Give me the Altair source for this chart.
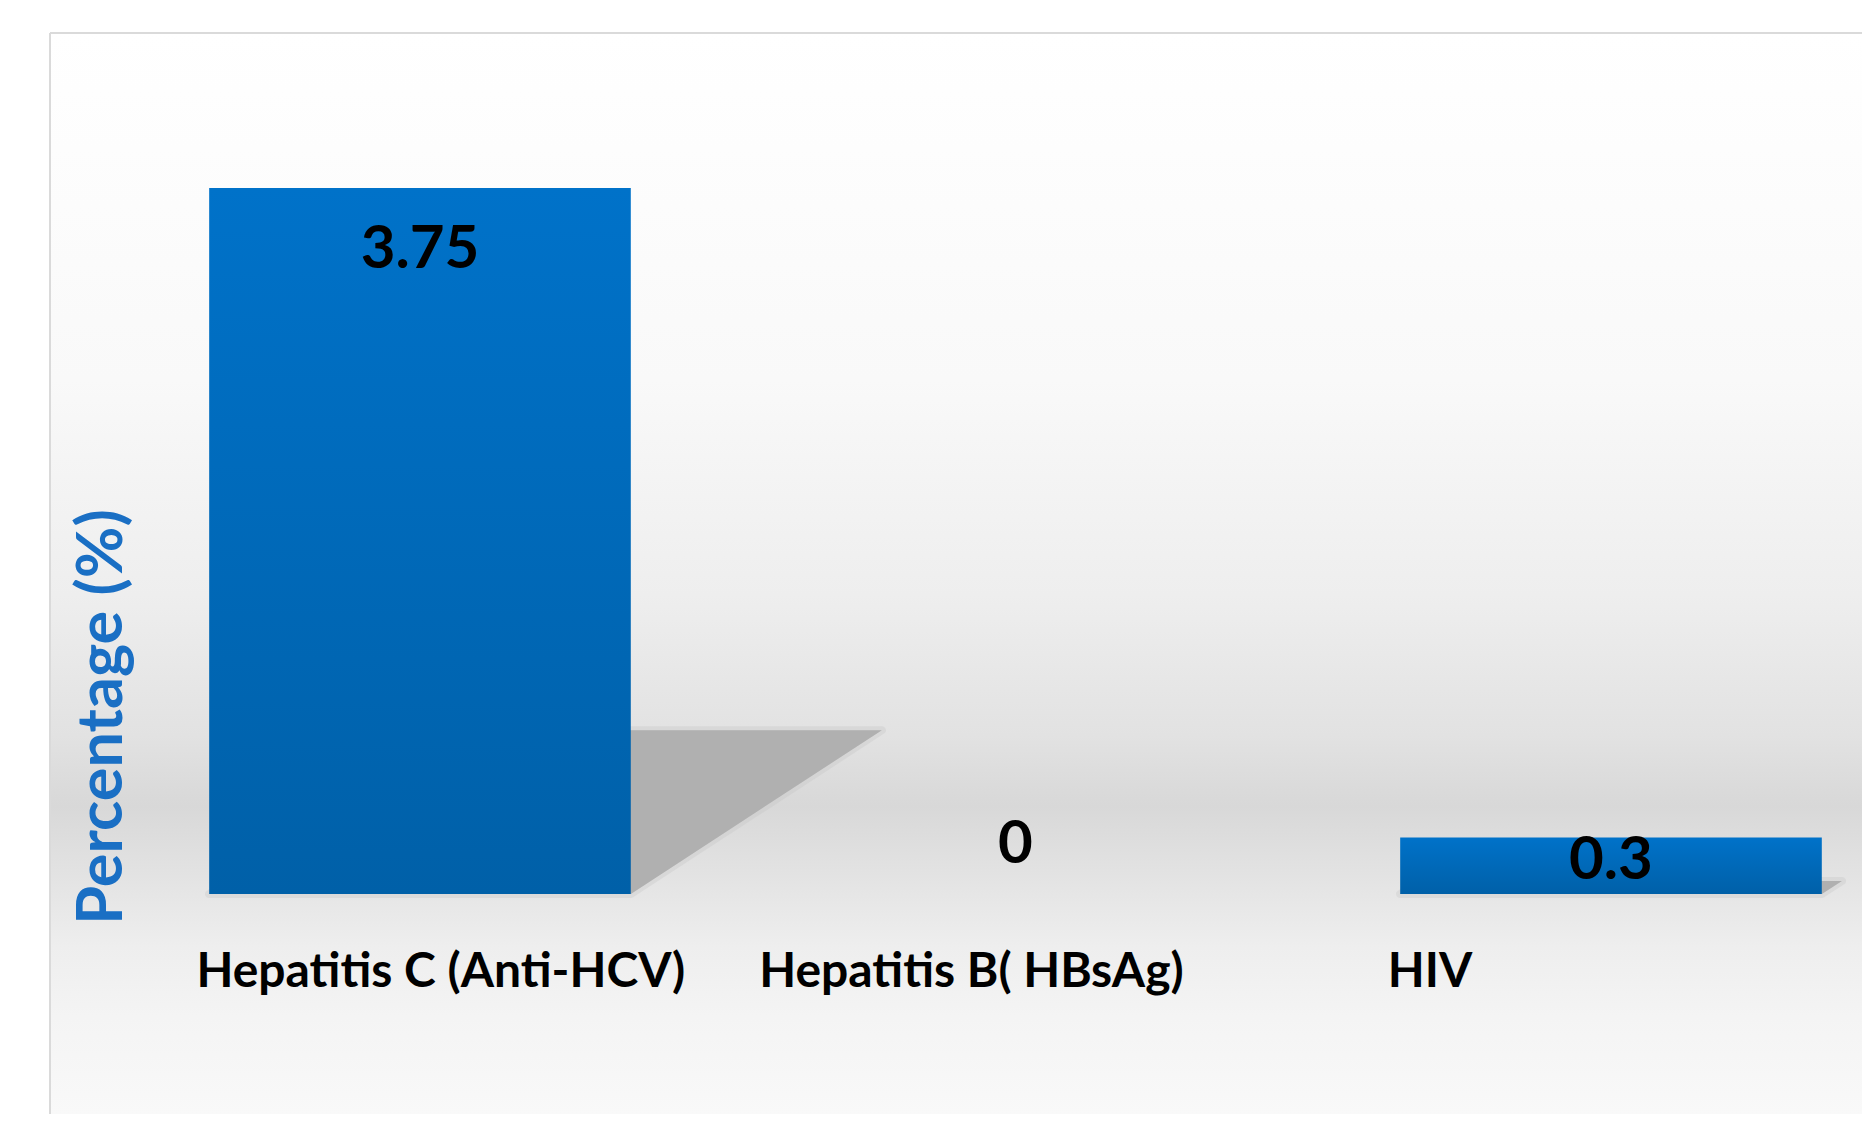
import altair as alt
import pandas as pd

# ---- data ----
CATEGORIES = ["Hepatitis C (Anti-HCV)", "Hepatitis B( HBsAg)", "HIV"]
VALUES = [3.75, 0, 0.3]
VALUE_TEXT = ["3.75", "0", "0.3"]
Y_TITLE = "Percentage (%)"

# ---- layout / style (not data) ----
W, H = 1812, 1081
X_DOMAIN = [-0.6213, 2.4215]          # category index units
Y_DOMAIN = [-1.1685, 4.573]           # percentage units
PX_PER_UNIT = H / (Y_DOMAIN[1] - Y_DOMAIN[0])
BAR_HALF = 0.354                      # half bar width in index units
CAT_LABEL_SHIFT = [0.035, -0.074, -0.304]
CAT_LABEL_Y = -0.494
VALUE_LABEL_DY = [80, -31, 41]        # px below the bar end
SHADOW_H = 0.232                      # shadow height / bar height
SHADOW_SHEAR = 0.1124                 # index units of shift per value unit
FONT = "Lato"

bars = pd.DataFrame({
    "cat": CATEGORIES,
    "value": VALUES,
    "txt": VALUE_TEXT,
    "idx": list(range(len(CATEGORIES))),
})
bars["x1"] = bars["idx"] - BAR_HALF
bars["x2"] = bars["idx"] + BAR_HALF
bars["lx"] = bars["idx"] + pd.Series(CAT_LABEL_SHIFT)
bars["vy"] = bars["value"] - pd.Series(VALUE_LABEL_DY) / PX_PER_UNIT
bars["zero"] = 0.0
bars["ly"] = CAT_LABEL_Y

rows = []
for i, v in enumerate(VALUES):
    if v <= 0:
        continue
    rows.append({"cat": CATEGORIES[i], "sy": 0.0, "sx1": i - BAR_HALF, "sx2": i + BAR_HALF})
    rows.append({"cat": CATEGORIES[i], "sy": v * SHADOW_H,
                 "sx1": i - BAR_HALF + v * SHADOW_SHEAR, "sx2": i + BAR_HALF + v * SHADOW_SHEAR})
shadow = pd.DataFrame(rows)

xs = alt.Scale(domain=X_DOMAIN, nice=False, zero=False)
ys = alt.Scale(domain=Y_DOMAIN, nice=False, zero=False)

one = pd.DataFrame({"a": [0]})

bg = alt.Chart(one).mark_rect(
    fill=alt.LinearGradient(
        gradient="linear", x1=0, x2=0, y1=0, y2=1,
        stops=[
            alt.GradientStop(color="#FFFFFF", offset=0.0),
            alt.GradientStop(color="#F9F9F9", offset=0.32),
            alt.GradientStop(color="#EEEEEE", offset=0.52),
            alt.GradientStop(color="#E2E2E2", offset=0.65),
            alt.GradientStop(color="#D8D8D8", offset=0.715),
            alt.GradientStop(color="#E3E3E3", offset=0.78),
            alt.GradientStop(color="#EEEEEE", offset=0.846),
            alt.GradientStop(color="#F4F4F4", offset=0.91),
            alt.GradientStop(color="#F9F9F9", offset=1.0),
        ],
    )
).encode(x=alt.value(0), x2=alt.value(W), y=alt.value(0), y2=alt.value(H))

frame_top = alt.Chart(one).mark_rule(color="#DADADA", strokeWidth=2).encode(
    x=alt.value(0), x2=alt.value(W), y=alt.value(0))
frame_left = alt.Chart(one).mark_rule(color="#DADADA", strokeWidth=2).encode(
    x=alt.value(0), y=alt.value(0), y2=alt.value(H))

shadow_soft = alt.Chart(shadow).mark_area(
    orient="horizontal", color="#BDBDBD", opacity=0.6,
    stroke="#C2C2C2", strokeWidth=8, strokeOpacity=0.5, strokeJoin="round"
).encode(
    y=alt.Y("sy:Q", scale=ys, axis=None),
    x=alt.X("sx1:Q", scale=xs, axis=None),
    x2="sx2:Q",
    detail="cat:N",
)
shadow_core = alt.Chart(shadow).mark_area(
    orient="horizontal", color="#B0B0B0"
).encode(
    y=alt.Y("sy:Q", scale=ys, axis=None),
    x=alt.X("sx1:Q", scale=xs, axis=None),
    x2="sx2:Q",
    detail="cat:N",
)

bar = alt.Chart(bars).mark_rect(
    color=alt.LinearGradient(
        gradient="linear", x1=0, x2=0, y1=0, y2=1,
        stops=[alt.GradientStop(color="#0072C9", offset=0),
               alt.GradientStop(color="#0060A8", offset=1)],
    )
).encode(
    x=alt.X("x1:Q", scale=xs, axis=None),
    x2="x2:Q",
    y=alt.Y("value:Q", scale=ys, axis=None),
    y2="zero:Q",
)

vlabels = alt.Chart(bars).mark_text(
    font=FONT, fontWeight="bold", fontSize=60, color="#000000",
    align="center", baseline="alphabetic",
).encode(
    x=alt.X("idx:Q", scale=xs, axis=None),
    y=alt.Y("vy:Q", scale=ys, axis=None),
    text="txt:N",
)

clabels = alt.Chart(bars).mark_text(
    font=FONT, fontWeight="bold", fontSize=48, color="#000000",
    align="center", baseline="alphabetic",
).encode(
    x=alt.X("lx:Q", scale=xs, axis=None),
    y=alt.Y("ly:Q", scale=ys, axis=None),
    text="cat:N",
)

ytitle = alt.Chart(one).mark_text(
    text=Y_TITLE, font=FONT, fontWeight="bold", fontSize=63, color="#1A6FC4",
    angle=270, align="center", baseline="alphabetic",
).encode(x=alt.value(72), y=alt.value(684))

chart = alt.layer(
    bg, frame_top, frame_left, shadow_soft, shadow_core, bar, vlabels, clabels, ytitle
).properties(
    width=W, height=H,
    autosize=alt.AutoSizeParams(type="none"),
    padding={"left": 42, "top": 25, "right": 0, "bottom": 0},
    background="#FFFFFF",
).configure_view(strokeWidth=0)

chart.save("out.html", embed_options={"renderer": "svg", "actions": False})
